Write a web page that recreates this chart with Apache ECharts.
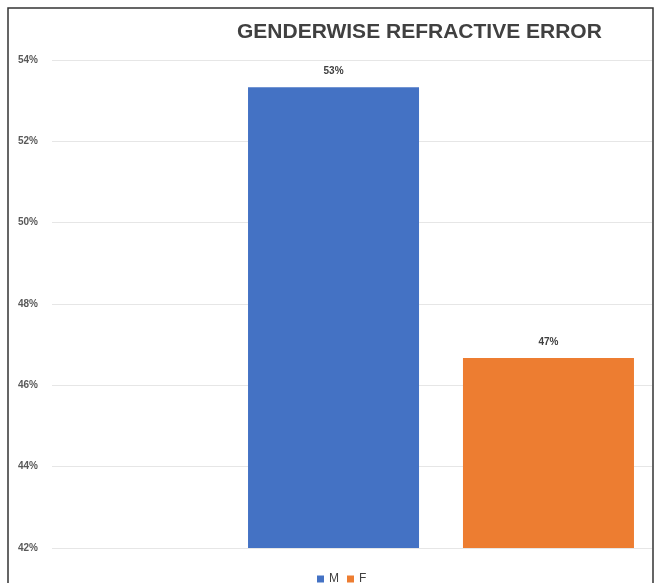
<!DOCTYPE html>
<html>
<head>
<meta charset="utf-8">
<script src="https://cdn.jsdelivr.net/npm/echarts@6/dist/echarts.min.js"></script>
<style>
  html, body { margin: 0; padding: 0; background: #fff; }
  #chart { width: 659px; height: 583px; }
</style>
</head>
<body>
<div id="chart"></div>
<script>
// Share of refractive error cases by gender (percent)
const seriesNames = ['M', 'F'];
const maleValues = [53.33];
const femaleValues = [46.67];
const categories = [''];
const yTicks = { min: 42, max: 54, step: 2 };

const chart = echarts.init(document.getElementById('chart'));
const fontFamily = '"Liberation Sans", Arial, sans-serif';
const textColor = '#404040';

const labelStyle = {
  show: true,
  position: 'top',
  distance: 11,
  fontFamily: fontFamily,
  fontSize: 10,
  fontWeight: 'bold',
  color: textColor,
  formatter: p => Math.round(p.value) + '%'
};

chart.setOption({
  animation: false,
  backgroundColor: '#fff',
  title: {
    text: 'GENDERWISE REFRACTIVE ERROR',
    left: 232,
    top: 17,
    textStyle: { fontFamily: fontFamily, fontSize: 21, fontWeight: 'bold', color: textColor }
  },
  legend: {
    data: seriesNames,
    left: 312,
    bottom: -7,
    icon: 'rect',
    itemWidth: 7,
    itemHeight: 7,
    itemGap: 8,
    textStyle: { fontFamily: fontFamily, fontSize: 12, color: textColor }
  },
  grid: [
    // axis frame with value labels and gridlines
    { left: 52, right: 7, top: 60, bottom: 35 },
    // plotting band for the clustered bars
    { left: 226, right: 3, top: 60, bottom: 35 }
  ],
  xAxis: [
    { gridIndex: 0, type: 'category', data: categories, show: false },
    { gridIndex: 1, type: 'category', data: categories, show: false }
  ],
  yAxis: [
    {
      gridIndex: 0, type: 'value',
      min: yTicks.min, max: yTicks.max, interval: yTicks.step,
      axisLine: { show: false }, axisTick: { show: false },
      axisLabel: {
        formatter: '{value}%', margin: 14,
        fontFamily: fontFamily, fontSize: 10, fontWeight: 'bold', color: '#595959'
      },
      splitLine: { lineStyle: { color: '#e6e6e6', width: 1 } }
    },
    {
      gridIndex: 1, type: 'value',
      min: yTicks.min, max: yTicks.max, interval: yTicks.step,
      show: false, splitLine: { show: false }
    }
  ],
  series: [
    {
      name: seriesNames[0], type: 'bar', xAxisIndex: 1, yAxisIndex: 1,
      data: maleValues, barWidth: 171, barGap: '25.7%',
      itemStyle: { color: '#4472C4' },
      label: labelStyle
    },
    {
      name: seriesNames[1], type: 'bar', xAxisIndex: 1, yAxisIndex: 1,
      data: femaleValues, barWidth: 171, barGap: '25.7%',
      itemStyle: { color: '#ED7D31' },
      label: labelStyle
    }
  ],
  graphic: [
    {
      type: 'rect', silent: true, z: 100,
      shape: { x: 8, y: 8, width: 645, height: 600 },
      style: { fill: 'none', stroke: '#333', lineWidth: 1.5 }
    }
  ]
});
</script>
</body>
</html>
